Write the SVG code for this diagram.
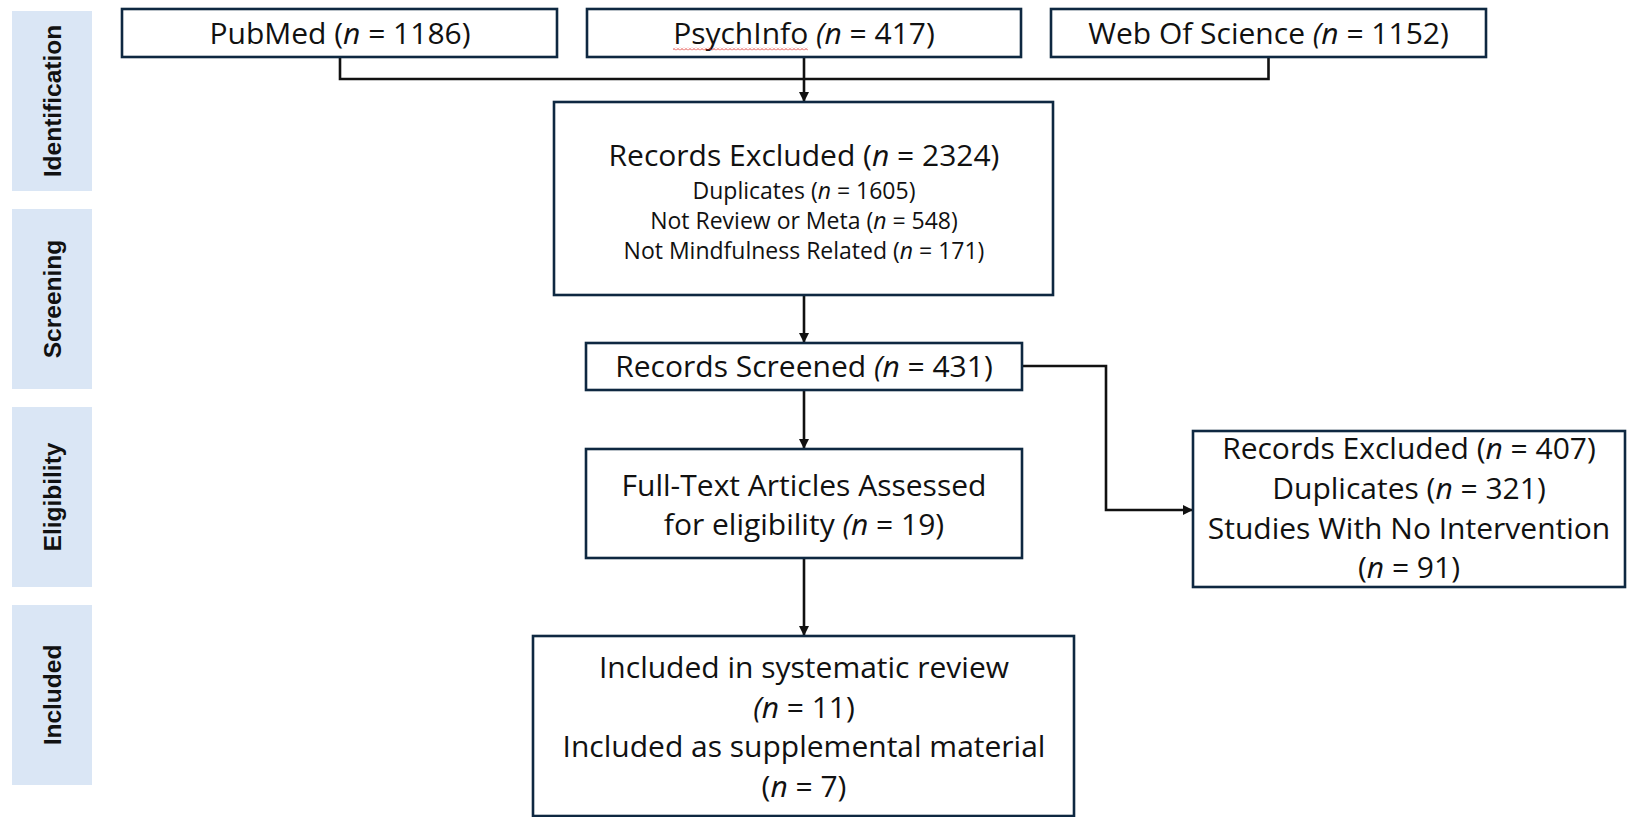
<svg xmlns="http://www.w3.org/2000/svg" width="1627" height="817" viewBox="0 0 1627 817">
  <style>
    .band { fill: #dae6f5; }
    .stage { font-family: "Liberation Sans", Arial, sans-serif; font-weight: bold; font-size: 24.5px; fill: #111; text-anchor: middle; }
    .box { fill: #ffffff; stroke: #0e2841; stroke-width: 2.6; }
    .t { font-family: "Open Sans", "Liberation Sans", sans-serif; fill: #111; text-anchor: middle; }
    .big { font-size: 30px; }
    .small { font-size: 23px; }
    .it { font-style: italic; }
    .wire { fill: none; stroke: #111; stroke-width: 2.6; }
  </style>
  <defs>
    <marker id="arrow" markerUnits="userSpaceOnUse" markerWidth="11" markerHeight="11" refX="10" refY="5" orient="auto">
      <path d="M0,0 L10,5 L0,10 z" fill="#111"/>
    </marker>
    <pattern id="squiggle" patternUnits="userSpaceOnUse" width="4" height="3">
      <path d="M0,2.5 L2,0.5 L4,2.5" fill="none" stroke="#e0302a" stroke-width="0.9"/>
    </pattern>
  </defs>

  <rect width="1627" height="817" fill="#ffffff"/>

  <!-- stage bands -->
  <g id="stages">
    <rect class="band" x="12" y="11" width="80" height="180"/>
    <rect class="band" x="12" y="209" width="80" height="180"/>
    <rect class="band" x="12" y="407" width="80" height="180"/>
    <rect class="band" x="12" y="605" width="80" height="180"/>
    <text class="stage" transform="translate(61,101) rotate(-90)">Identification</text>
    <text class="stage" transform="translate(61,299) rotate(-90)">Screening</text>
    <text class="stage" transform="translate(61,497) rotate(-90)">Eligibility</text>
    <text class="stage" transform="translate(61,695) rotate(-90)">Included</text>
  </g>

  <!-- connectors -->
  <g id="connectors">
    <path class="wire" d="M340,57 V79 H1268.5 V57"/>
    <path class="wire" d="M804,57 V102" marker-end="url(#arrow)"/>
    <path class="wire" d="M804,295 V343" marker-end="url(#arrow)"/>
    <path class="wire" d="M804,390 V449" marker-end="url(#arrow)"/>
    <path class="wire" d="M1022,366 H1106 V510 H1193" marker-end="url(#arrow)"/>
    <path class="wire" d="M804,558 V636" marker-end="url(#arrow)"/>
  </g>

  <g id="pubmed">
    <rect class="box" x="122" y="9" width="435" height="48"/>
    <text class="t big" x="340" y="43.5">PubMed (<tspan class="it">n</tspan> = 1186)</text>
  </g>

  <g id="psychinfo">
    <rect class="box" x="587" y="9" width="434" height="48"/>
    <text class="t big" x="804" y="43.5">PsychInfo <tspan class="it">(n</tspan> = 417)</text>
    <rect x="673" y="47.5" width="135" height="3" fill="url(#squiggle)"/>
  </g>

  <g id="web-of-science">
    <rect class="box" x="1051" y="9" width="435" height="48"/>
    <text class="t big" x="1268.5" y="43.5">Web Of Science <tspan class="it">(n</tspan> = 1152)</text>
  </g>

  <g id="records-excluded">
    <rect class="box" x="554" y="102" width="499" height="193"/>
    <text class="t big" x="804" y="166">Records Excluded (<tspan class="it">n</tspan> = 2324)</text>
    <text class="t small" x="804" y="199">Duplicates (<tspan class="it">n</tspan> = 1605)</text>
    <text class="t small" x="804" y="229">Not Review or Meta (<tspan class="it">n</tspan> = 548)</text>
    <text class="t small" x="804" y="259">Not Mindfulness Related (<tspan class="it">n</tspan> = 171)</text>
  </g>

  <g id="records-screened">
    <rect class="box" x="586" y="343" width="436" height="47"/>
    <text class="t big" x="804" y="377">Records Screened <tspan class="it">(n</tspan> = 431)</text>
  </g>

  <g id="full-text">
    <rect class="box" x="586" y="449" width="436" height="109"/>
    <text class="t big" x="804" y="496">Full-Text Articles Assessed</text>
    <text class="t big" x="804" y="535">for eligibility <tspan class="it">(n</tspan> = 19)</text>
  </g>

  <g id="records-excluded-full-text">
    <rect class="box" x="1193" y="431" width="432" height="156"/>
    <text class="t big" x="1409" y="459">Records Excluded (<tspan class="it">n</tspan> = 407)</text>
    <text class="t big" x="1409" y="499">Duplicates (<tspan class="it">n</tspan> = 321)</text>
    <text class="t big" x="1409" y="538.5">Studies With No Intervention</text>
    <text class="t big" x="1409" y="578">(<tspan class="it">n</tspan> = 91)</text>
  </g>

  <g id="included">
    <rect class="box" x="533" y="636" width="541" height="180"/>
    <text class="t big" x="804" y="678">Included in systematic review</text>
    <text class="t big" x="804" y="717.5"><tspan class="it">(n</tspan> = 11)</text>
    <text class="t big" x="804" y="757">Included as supplemental material</text>
    <text class="t big" x="804" y="797">(<tspan class="it">n</tspan> = 7)</text>
  </g>
</svg>
